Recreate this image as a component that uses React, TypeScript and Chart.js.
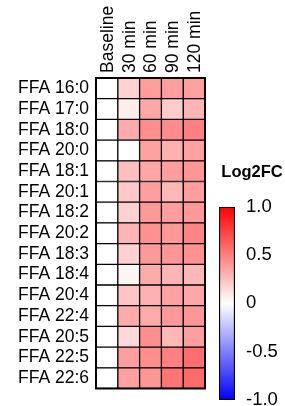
import React, { useEffect, useRef } from "react";
import { Chart, registerables } from "chart.js";

Chart.register(...registerables);

const ROWS = [
  "FFA 16:0", "FFA 17:0", "FFA 18:0", "FFA 20:0", "FFA 18:1",
  "FFA 20:1", "FFA 18:2", "FFA 20:2", "FFA 18:3", "FFA 18:4",
  "FFA 20:4", "FFA 22:4", "FFA 20:5", "FFA 22:5", "FFA 22:6",
];
const COLUMNS = ["Baseline", "30 min", "60 min", "90 min", "120 min"];

// Log2 fold change per time point (one value per row)
const baseline = [0, 0, 0, 0, 0, 0, 0, 0, 0, 0, 0, 0, 0, 0, 0];
const min30 = [0.18, 0.07, 0.33, 0.0, 0.25, 0.22, 0.18, 0.29, 0.18, 0.04, 0.23, 0.33, 0.15, 0.38, 0.37];
const min60 = [0.39, 0.35, 0.44, 0.37, 0.35, 0.38, 0.4, 0.43, 0.4, 0.33, 0.31, 0.33, 0.44, 0.44, 0.41];
const min90 = [0.38, 0.2, 0.45, 0.31, 0.38, 0.28, 0.38, 0.4, 0.41, 0.29, 0.37, 0.4, 0.28, 0.5, 0.54];
const min120 = [0.37, 0.29, 0.5, 0.37, 0.41, 0.38, 0.4, 0.48, 0.43, 0.28, 0.35, 0.41, 0.38, 0.57, 0.58];

const COLOR_MIN = -1;
const COLOR_MAX = 1;
const COLOR_TICKS = [1, 0.5, 0, -0.5, -1];
const COLOR_TICK_LABELS = ["1.0", "0.5", "0", "-0.5", "-1.0"];
const COLOR_STOPS = [-1, 0, 1];

function log2fcColor(v: number): string {
  const t = Math.max(-1, Math.min(1, v));
  if (t >= 0) {
    const c = Math.round(255 * (1 - t));
    return `rgb(255,${c},${c})`;
  }
  const c = Math.round(255 * (1 + t));
  return `rgb(${c},${c},255)`;
}

const outerBorder = {
  id: "outerBorder",
  afterDatasetsDraw(chart: any) {
    const { ctx, chartArea } = chart;
    ctx.save();
    ctx.strokeStyle = "#000";
    ctx.lineWidth = 2;
    ctx.strokeRect(chartArea.left, chartArea.top, chartArea.right - chartArea.left, chartArea.bottom - chartArea.top);
    ctx.restore();
  },
};

export default function App() {
  const heatRef = useRef<HTMLCanvasElement>(null);
  const barRef = useRef<HTMLCanvasElement>(null);

  useEffect(() => {
    document.body.style.margin = "0";
    const columnValues = [baseline, min30, min60, min90, min120];
    const labelFont = { family: "Liberation Sans", size: 17.5 };

    const heat = new Chart(heatRef.current as HTMLCanvasElement, {
      type: "bar",
      data: {
        labels: ROWS,
        datasets: columnValues.map((vals, i) => ({
          label: COLUMNS[i],
          data: vals.map(() => 1),
          backgroundColor: vals.map(log2fcColor),
          borderColor: "#000",
          borderWidth: 1,
          borderSkipped: false,
          barPercentage: 1,
          categoryPercentage: 1,
        })),
      },
      options: {
        indexAxis: "y",
        animation: false,
        responsive: false,
        devicePixelRatio: 1,
        layout: { padding: { left: 0, top: 0, right: 5, bottom: 7 } },
        plugins: { legend: { display: false }, tooltip: { enabled: false }, title: { display: false } },
        scales: {
          x: {
            type: "linear",
            position: "top",
            stacked: true,
            min: 0,
            max: COLUMNS.length,
            grid: { display: false, drawTicks: false },
            border: { display: false },
            afterBuildTicks: (s: any) => {
              s.ticks = COLUMNS.map((_, i) => ({ value: i + 0.5 }));
            },
            afterFit: (s: any) => {
              s.height = 78;
            },
            ticks: {
              autoSkip: false,
              minRotation: 90,
              maxRotation: 90,
              padding: 5,
              labelOffset: 22,
              color: "#000",
              font: labelFont,
              callback: (v: any) => COLUMNS[Math.floor(Number(v))],
            },
          },
          y: {
            type: "category",
            stacked: true,
            grid: { display: false, drawTicks: false },
            border: { display: false },
            afterFit: (s: any) => {
              s.width = 96;
            },
            ticks: { padding: 7, color: "#000", font: labelFont, autoSkip: false },
          },
        },
      } as any,
      plugins: [outerBorder],
    } as any);

    const bar = new Chart(barRef.current as HTMLCanvasElement, {
      type: "bar",
      data: {
        labels: ["Log2FC"],
        datasets: [
          {
            data: [[COLOR_MIN, COLOR_MAX]],
            backgroundColor: (c: any) => {
              const chart = c.chart;
              const ys = chart.scales && chart.scales.y;
              if (!ys) return "#fff";
              const top = ys.getPixelForValue(COLOR_MAX);
              const bottom = ys.getPixelForValue(COLOR_MIN);
              if (!Number.isFinite(top) || !Number.isFinite(bottom) || top === bottom) return "#fff";
              const g = chart.ctx.createLinearGradient(0, bottom, 0, top);
              COLOR_STOPS.forEach((s) => g.addColorStop((s - COLOR_MIN) / (COLOR_MAX - COLOR_MIN), log2fcColor(s)));
              return g;
            },
            borderColor: "#000",
            borderWidth: 1.5,
            borderSkipped: false,
            barPercentage: 1,
            categoryPercentage: 1,
          },
        ],
      },
      options: {
        animation: false,
        responsive: false,
        devicePixelRatio: 1,
        layout: { padding: { left: 4, right: 0, top: 0, bottom: 0 } },
        plugins: {
          legend: { display: false },
          tooltip: { enabled: false },
          title: {
            display: true,
            text: "Log2FC",
            color: "#000",
            font: { family: "Liberation Sans", size: 16.5, weight: "bold" },
            padding: { top: 10, bottom: 24 },
          },
        },
        scales: {
          x: { display: false },
          y: {
            position: "right",
            min: COLOR_MIN,
            max: COLOR_MAX,
            z: 1,
            afterBuildTicks: (s: any) => {
              s.ticks = COLOR_TICKS.map((v) => ({ value: v }));
            },
            afterFit: (s: any) => {
              s.width = 50;
            },
            ticks: {
              padding: 11,
              color: "#000",
              font: { family: "Liberation Sans", size: 18.5 },
              callback: (_v: any, i: number) => COLOR_TICK_LABELS[i],
            },
            grid: {
              drawTicks: false,
              lineWidth: 1,
              color: (c: any) => (c.tick && Math.abs(c.tick.value) === 1 ? "rgba(0,0,0,0)" : "#000"),
            },
            border: { display: false, dash: [3, 10] },
          },
        },
      } as any,
    } as any);

    return () => {
      heat.destroy();
      bar.destroy();
    };
  }, []);

  return (
    <div style={{ position: "fixed", left: 0, top: 0, width: 285, height: 406, overflow: "hidden", background: "#fff" }}>
      <canvas ref={heatRef} width={210} height={406} style={{ position: "absolute", left: 0, top: 0, width: 210, height: 406 }} />
      <canvas ref={barRef} width={70} height={269} style={{ position: "absolute", left: 215, top: 153, width: 70, height: 269 }} />
    </div>
  );
}
